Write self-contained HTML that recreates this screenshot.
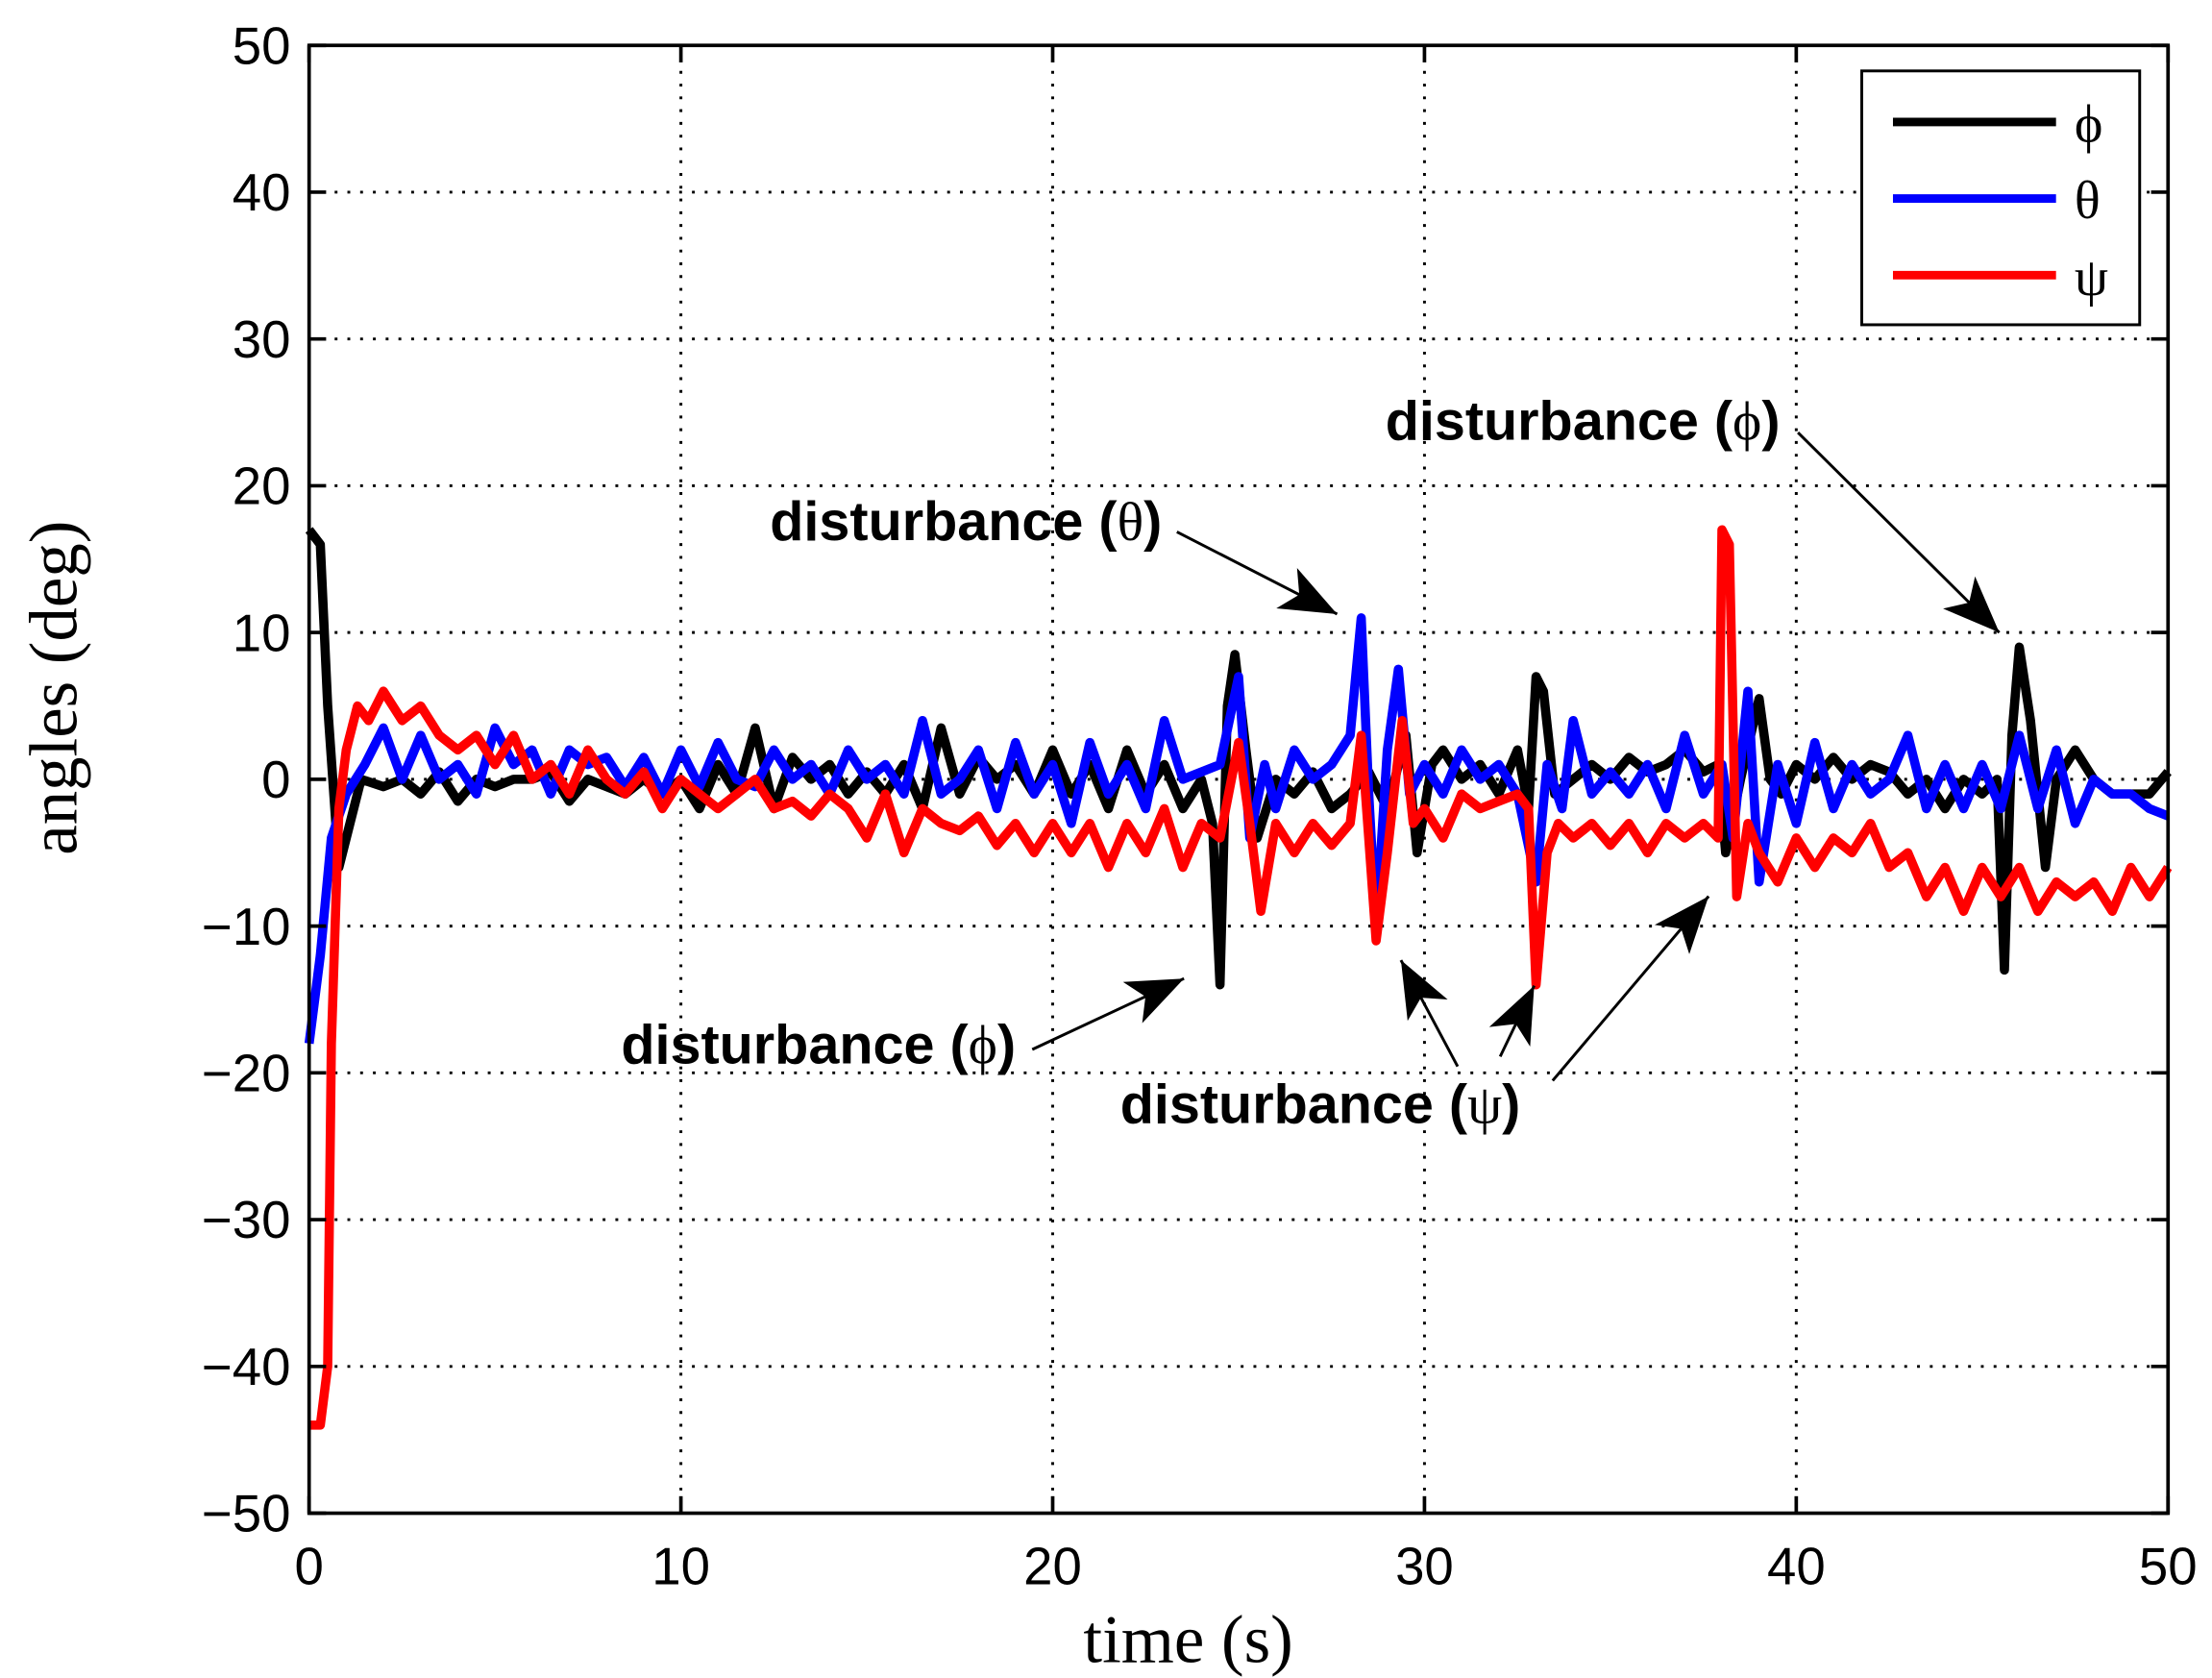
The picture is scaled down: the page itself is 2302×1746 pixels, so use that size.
<!DOCTYPE html>
<html><head><meta charset="utf-8"><style>html,body{margin:0;padding:0;background:#fff}svg{display:block}</style></head>
<body>
<svg id="chart" width="2302" height="1746" viewBox="0 0 1560 1183.2" xmlns="http://www.w3.org/2000/svg" font-family="Liberation Sans, sans-serif">
<rect width="1560" height="1184" fill="#fff"/>
<g id="grid"></g>
<g id="series"></g>
<rect x="218" y="32" width="1311" height="1035" fill="none" stroke="#000" stroke-width="2.5"/>
<g id="ticks"></g>
<text x="838" y="1172" font-family="Liberation Serif, serif" font-size="48" text-anchor="middle">time (s)</text>
<text transform="translate(54,485) rotate(-90)" font-family="Liberation Serif, serif" font-size="48" text-anchor="middle">angles (deg)</text>
<g>
<rect x="1313" y="50" width="196" height="179" fill="#fff" stroke="#000" stroke-width="2"/>
<line x1="1335" y1="86" x2="1450" y2="86" stroke="#000" stroke-width="6"/>
<text x="1463" y="100" font-family="Liberation Serif, DejaVu Serif, serif" font-size="38">ϕ</text>
<line x1="1335" y1="140" x2="1450" y2="140" stroke="#00f" stroke-width="6"/>
<text x="1463" y="154" font-family="Liberation Serif, serif" font-size="38">θ</text>
<line x1="1335" y1="194" x2="1450" y2="194" stroke="#f00" stroke-width="6"/>
<text x="1463" y="208" font-family="Liberation Serif, serif" font-size="38">ψ</text>
</g>
<defs>
<marker id="ahb" viewBox="0 0 10 8" refX="10" refY="4" markerWidth="44" markerHeight="32" orient="auto" markerUnits="userSpaceOnUse"><path d="M0,0 L10,4 L0,8 L2.5,4 Z" fill="#000"/></marker></defs>
<g font-weight="bold" font-size="39">
<text x="543" y="381">disturbance (<tspan font-family="Liberation Serif, serif" font-weight="normal">θ</tspan>)</text>
<line x1="830" y1="375" x2="943" y2="433" stroke="#000" stroke-width="2" marker-end="url(#ahb)"/>
<text x="977" y="310">disturbance (<tspan font-family="Liberation Serif, DejaVu Serif, serif" font-weight="normal">ϕ</tspan>)</text>
<line x1="1268" y1="305" x2="1410" y2="446" stroke="#000" stroke-width="2" marker-end="url(#ahb)"/>
<text x="438" y="750">disturbance (<tspan font-family="Liberation Serif, DejaVu Serif, serif" font-weight="normal">ϕ</tspan>)</text>
<line x1="728" y1="740" x2="835" y2="690" stroke="#000" stroke-width="2" marker-end="url(#ahb)"/>
<text x="790" y="792">disturbance (<tspan font-family="Liberation Serif, serif" font-weight="normal">ψ</tspan>)</text>
<line x1="1028" y1="752" x2="988" y2="677" stroke="#000" stroke-width="2" marker-end="url(#ahb)"/>
<line x1="1058" y1="745" x2="1082" y2="695" stroke="#000" stroke-width="2" marker-end="url(#ahb)"/>
<line x1="1095" y1="762" x2="1205" y2="632" stroke="#000" stroke-width="2" marker-end="url(#ahb)"/>
</g>
</svg>
<script>
const xTicks=[0,10,20,30,40,50];
const yTicks=[50,40,30,20,10,0,-10,-20,-30,-40,-50];
const phiT=[0,0.3,0.5,0.8,1.1,1.4,2,2.5,3,3.5,4,4.5,5,5.5,6,6.5,7,7.5,8,8.5,9,9.5,10,10.5,11,11.5,12,12.5,13,13.5,14,14.5,15,15.5,16,16.5,17,17.5,18,18.5,19,19.5,20,20.5,21,21.5,22,22.5,23,23.5,24,24.3,24.5,24.7,24.9,25.2,25.5,26,26.5,27,27.5,28,28.5,29,29.5,29.8,30.2,30.5,31,31.5,32,32.5,32.8,33,33.2,33.5,34,34.5,35,35.5,36,36.5,37,37.5,37.9,38.1,38.5,39,39.3,39.6,40,40.5,41,41.5,42,42.5,43,43.5,44,44.5,45,45.4,45.6,45.8,46,46.3,46.7,47,47.5,48,48.5,49,49.5,50];
const phiV=[17,16,5,-6,-3,0,-0.5,0,-1,0.5,-1.5,0,-0.5,0,0,0.5,-1.5,0,-0.5,-1,0,-1,0,-2,1,-1,3.5,-2,1.5,0,1,-1,0.5,-1,1,-2,3.5,-1,1.5,0,1,-1,2,-1,1,-2,2,-1,1,-2,0,-3,-14,5,8.5,2,-4,0,-1,0.5,-2,-1,0.5,-2,3,-5,1,2,0,1,-1,2,-2,7,6,-1,0,1,0,1.5,0.5,1,2,0.5,1,-5,0,5.5,0,-1,1,0,1.5,0,1,0.5,-1,0,-2,0,-1,0,-13,3,9,4,-6,0,2,0,-1,-1,-1,0.5];
const thetaT=[0,0.3,0.6,1,1.5,2,2.5,3,3.5,4,4.5,5,5.5,6,6.5,7,7.5,8,8.5,9,9.5,10,10.5,11,11.5,12,12.5,13,13.5,14,14.5,15,15.5,16,16.5,17,17.5,18,18.5,19,19.5,20,20.5,21,21.5,22,22.5,23,23.5,24,24.5,25,25.3,25.7,26,26.5,27,27.5,28,28.3,28.5,28.7,29,29.3,29.6,30,30.5,31,31.5,32,32.5,33,33.3,33.7,34,34.5,35,35.5,36,36.5,37,37.5,38,38.3,38.7,39,39.5,40,40.5,41,41.5,42,42.5,43,43.5,44,44.5,45,45.5,46,46.5,47,47.5,48,48.5,49,49.5,50];
const thetaV=[-18,-12,-4,-1,1,3.5,0,3,0,1,-1,3.5,1,2,-1,2,1,1.5,-0.5,1.5,-1,2,-0.5,2.5,0,-0.5,2,0,1,-1,2,0,1,-1,4,-1,0,2,-2,2.5,-1,1,-3,2.5,-1,1,-2,4,0,0.5,1,7,-4,1,-2,2,0,1,3,11,-1,-10,2,7.5,-1,1,-1,2,0,1,-1,-7,1,-2,4,-1,0.5,-1,1,-2,3,-1,1,-4,6,-7,1,-3,2.5,-2,1,-1,0,3,-2,1,-2,1,-2,3,-2,2,-3,0,-1,-1,-2,-2.5];
const psiT=[0,0.3,0.5,0.6,0.8,1,1.3,1.6,2,2.5,3,3.5,4,4.5,5,5.5,6,6.5,7,7.5,8,8.5,9,9.5,10,10.5,11,11.5,12,12.5,13,13.5,14,14.5,15,15.5,16,16.5,17,17.5,18,18.5,19,19.5,20,20.5,21,21.5,22,22.5,23,23.5,24,24.5,25,25.3,25.6,26,26.5,27,27.5,28,28.3,28.5,28.7,29,29.4,29.7,30,30.5,31,31.5,32,32.5,32.8,33,33.3,33.6,34,34.5,35,35.5,36,36.5,37,37.5,37.9,38,38.2,38.4,38.7,39,39.5,40,40.5,41,41.5,42,42.5,43,43.5,44,44.5,45,45.5,46,46.5,47,47.5,48,48.5,49,49.5,50];
const psiV=[-44,-44,-40,-18,-2,2,5,4,6,4,5,3,2,3,1,3,0,1,-1,2,0,-1,0.5,-2,0,-1,-2,-1,0,-2,-1.5,-2.5,-1,-2,-4,-1,-5,-2,-3,-3.5,-2.5,-4.5,-3,-5,-3,-5,-3,-6,-3,-5,-2,-6,-3,-4,2.5,-3,-9,-3,-5,-3,-4.5,-3,3,-4,-11,-5,4,-3,-2,-4,-1,-2,-1.5,-1,-2,-14,-5,-3,-4,-3,-4.5,-3,-5,-3,-4,-3,-4,17,16,-8,-3,-5,-7,-4,-6,-4,-5,-3,-6,-5,-8,-6,-9,-6,-8,-6,-9,-7,-8,-7,-9,-6,-8,-6];

const L=218,R=1529,T=32,B=1067;
const xs=v=>L+(v-0)/50*(R-L);
const ys=v=>T+(50-v)/100*(B-T);
const NS='http://www.w3.org/2000/svg';
function mk(tag,attrs,parent){const e=document.createElementNS(NS,tag);for(const k in attrs)e.setAttribute(k,attrs[k]);parent.appendChild(e);return e;}
const grid=document.getElementById('grid'),ticks=document.getElementById('ticks'),series=document.getElementById('series');
xTicks.forEach(v=>{
  if(v>0&&v<50){const g=mk('line',{x1:xs(v),y1:T,x2:xs(v),y2:B,stroke:'#000','stroke-width':2,'stroke-dasharray':'2 7'},grid);
  
  }
  const t1=mk('line',{x1:xs(v),y1:B,x2:xs(v),y2:B-12,stroke:'#000','stroke-width':2.5},ticks);
  
  
  const t2=mk('line',{x1:xs(v),y1:T,x2:xs(v),y2:T+12,stroke:'#000','stroke-width':2.5},ticks);
  
  
  const tx=mk('text',{x:xs(v),y:1117,'font-size':37,'text-anchor':'middle'},ticks);tx.textContent=String(v);
  
  
});
yTicks.forEach(v=>{
  if(v<50&&v>-50){const g=mk('line',{x1:L,y1:ys(v),x2:R,y2:ys(v),stroke:'#000','stroke-width':2,'stroke-dasharray':'2 7'},grid);
  
  }
  const t1=mk('line',{x1:L,y1:ys(v),x2:L+12,y2:ys(v),stroke:'#000','stroke-width':2.5},ticks);
  
  
  const t2=mk('line',{x1:R,y1:ys(v),x2:R-12,y2:ys(v),stroke:'#000','stroke-width':2.5},ticks);
  
  
  const tx=mk('text',{x:205,y:ys(v)+13,'font-size':37,'text-anchor':'end'},ticks);tx.textContent=(v<0?'\u2212'+(-v):String(v));
  
  
});
function line(tt,vv,color,name){
  const d=tt.map((t,i)=>(i?'L':'M')+xs(t).toFixed(1)+','+ys(vv[i]).toFixed(1)).join(' ');
  const p=mk('path',{d:d,fill:'none',stroke:color,'stroke-width':6.5,'stroke-linejoin':'round'},series);
  
  
}
line(phiT,phiV,'#000','phi-line');
line(thetaT,thetaV,'#00f','theta-line');
line(psiT,psiV,'#f00','psi-line');
</script>
</body></html>
